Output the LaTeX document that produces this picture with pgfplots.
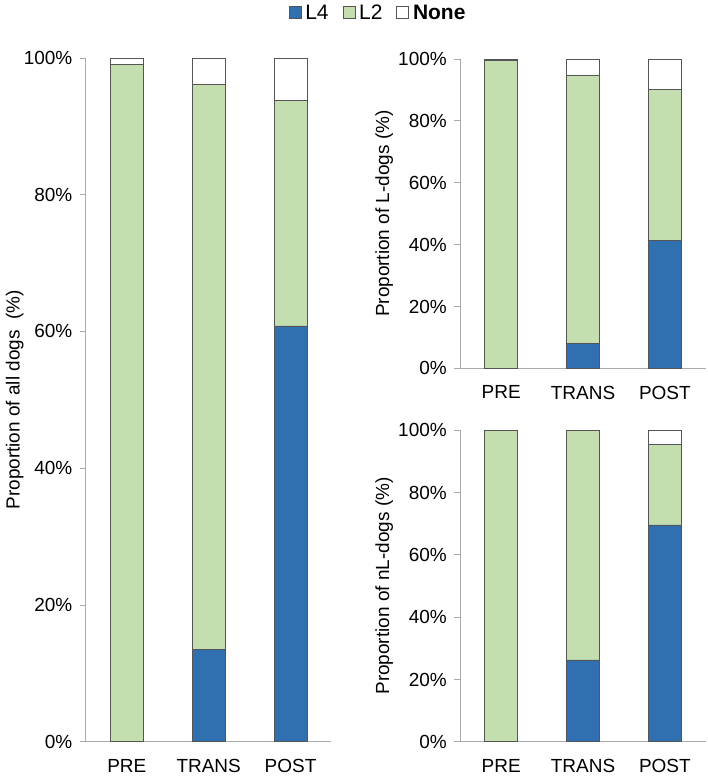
\documentclass[border=0pt]{standalone}
\usepackage{pgfplots}
\pgfplotsset{compat=1.18}
\usepackage{fontspec}
\setmainfont{Liberation Sans}
\definecolor{cL4}{RGB}{48,112,176}
\definecolor{cL2}{RGB}{196,222,176}
\definecolor{cAx}{RGB}{170,170,170}
\definecolor{cEdge}{RGB}{85,85,85}
\newcommand{\fs}{\fontsize{19bp}{22bp}\selectfont}
\pgfplotsset{
  mystyle/.style={
    scale only axis,
    width=246bp,
    ybar stacked,
    bar width=0.4,
    xmin=-0.5, xmax=2.5,
    ymin=0, ymax=100,
    xtick={0,1,2},
    xticklabels={PRE,TRANS,POST},
    ytick={0,20,40,60,80,100},
    yticklabels={0\%,20\%,40\%,60\%,80\%,100\%},
    axis x line*=bottom,
    axis y line*=left,
    axis line style={draw=cAx, line width=0.8bp},
    x axis line style={-},
    y axis line style={-},
    xtick style={draw=none},
    ytick style={draw=cAx, line width=0.8bp},
    tick align=outside,
    major tick length=6bp,
    ticklabel style={font=\fs},
    yticklabel style={xshift=-4bp},
    xticklabel style={yshift=-8bp},
    every axis plot/.append style={draw=cEdge, line width=0.6bp},
  }
}
\begin{document}
\begin{tikzpicture}
\path (0bp,0bp) rectangle (709bp,-776bp);
% left panel
\begin{axis}[mystyle,
  height=685bp,
  at={(86bp,-743bp)}, anchor=south west,
  ylabel={Proportion of all dogs~~(\%)},
  every axis y label/.style={at={(axis description cs:-0.29,0.5)}, rotate=90, anchor=center, font=\fs},
  legend columns=3,
  legend style={draw=none, fill=none, font=\fontsize{21bp}{24bp}\selectfont,
    at={(axis description cs:1.19,1.066)}, anchor=center,
    /tikz/every odd column/.append style={column sep=2bp},
    /tikz/every even column/.append style={column sep=12bp}},
  legend image code/.code={\draw[#1, line width=0.6bp] (0bp,-6bp) rectangle (12bp,6bp);},
]
\addplot[fill=cL4] coordinates {(0,0) (1,13.5) (2,60.8)};
\addplot[fill=cL2] coordinates {(0,99.1) (1,82.6) (2,33.0)};
\addplot[fill=white] coordinates {(0,0.9) (1,3.9) (2,6.2)};
\legend{L4,L2,\textbf{None}}
\end{axis}
% top right panel
\begin{axis}[mystyle,
  height=310bp,
  at={(461bp,-369bp)}, anchor=south west,
  ylabel={Proportion of L-dogs (\%)},
  every axis y label/.style={at={(axis description cs:-0.31,0.5)}, rotate=90, anchor=center, font=\fs},
]
\addplot[fill=cL4] coordinates {(0,0) (1,8.0) (2,41.3)};
\addplot[fill=cL2] coordinates {(0,99.4) (1,86.8) (2,48.9)};
\addplot[fill=white] coordinates {(0,0.6) (1,5.2) (2,9.8)};
\end{axis}
% bottom right panel
\begin{axis}[mystyle,
  height=312bp,
  at={(461bp,-743bp)}, anchor=south west,
  ylabel={Proportion of nL-dogs (\%)},
  every axis y label/.style={at={(axis description cs:-0.31,0.5)}, rotate=90, anchor=center, font=\fs},
]
\addplot[fill=cL4] coordinates {(0,0) (1,26.3) (2,69.6)};
\addplot[fill=cL2] coordinates {(0,100) (1,73.7) (2,25.9)};
\addplot[fill=white] coordinates {(0,0) (1,0) (2,4.5)};
\end{axis}
\end{tikzpicture}
\end{document}
